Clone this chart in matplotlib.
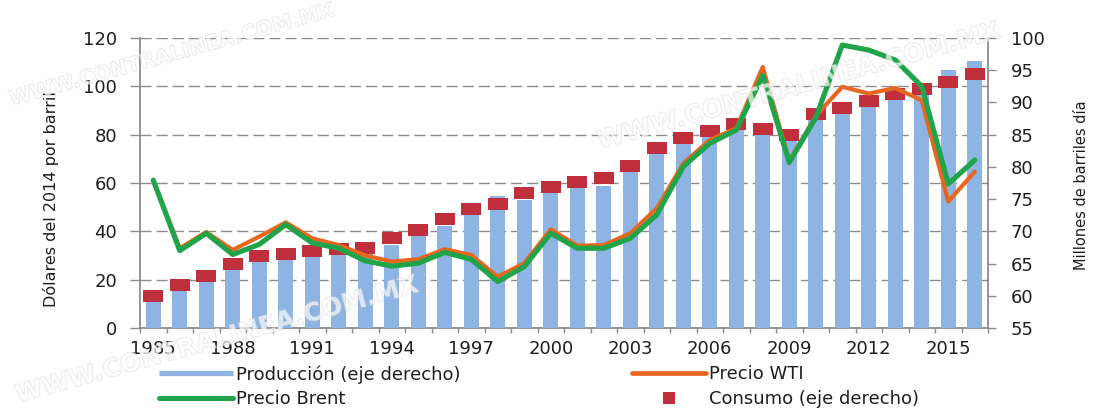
import matplotlib
matplotlib.use('Agg')
import matplotlib.pyplot as plt
from matplotlib.lines import Line2D
import matplotlib.patheffects as pe
import numpy as np

# ---------------- data ----------------
years = list(range(1985, 2017))
produccion = [59.3, 61.0, 62.2, 64.1, 65.3, 65.6, 66.2, 66.4, 66.6, 67.9,
              69.3, 70.9, 72.5, 75.5, 74.9, 76.0, 76.7, 77.1, 79.3, 82.1,
              83.7, 84.6, 85.7, 85.1, 84.0, 87.3, 88.2, 89.5, 90.4, 91.4,
              95.0, 96.5]
consumo = [60.0, 61.7, 63.1, 64.9, 66.1, 66.5, 67.0, 67.2, 67.4, 68.9,
           70.2, 71.9, 73.4, 74.2, 76.0, 76.9, 77.6, 78.3, 80.1, 83.0,
           84.5, 85.5, 86.6, 85.9, 84.9, 88.2, 89.1, 90.3, 91.3, 92.1,
           93.2, 94.4]
brent = [61.2, 32.0, 39.2, 30.4, 34.6, 42.8, 35.2, 33.0, 27.8, 25.6,
         26.8, 31.3, 28.4, 19.2, 25.4, 39.2, 33.0, 33.0, 37.1, 46.8,
         66.8, 76.4, 81.9, 104.5, 68.5, 87.0, 117.1, 115.0, 110.9, 100.0,
         59.6, 69.5]
wti = [61.0, 33.0, 39.7, 32.3, 37.8, 43.7, 37.1, 34.3, 30.0, 27.5,
       28.4, 32.6, 30.2, 21.2, 26.8, 40.8, 34.1, 34.3, 39.2, 49.5,
       68.1, 77.8, 82.6, 108.0, 69.0, 87.8, 99.8, 97.0, 99.3, 94.2,
       52.3, 64.7]
xtick_years = list(range(1985, 2016, 3))
left_ticks = list(range(0, 121, 20))
right_ticks = list(range(55, 101, 5))

labels = ['Producción (eje derecho)', 'Precio WTI', 'Precio Brent', 'Consumo (eje derecho)']

# ---------------- style ----------------
C_BAR = '#8DB4E2'
C_SQ = '#C0303C'
C_BRENT = '#1FA449'
C_WTI = '#E8661F'
C_AXIS = '#8C8C8C'
C_TXT = '#1E1E1E'
FONT = 'DejaVu Sans'
plt.rcParams['font.family'] = [FONT]

W, H = 1101, 412
fig = plt.figure(figsize=(W / 100, H / 100), dpi=100)
pos = [140 / W, 84 / H, 848 / W, 290 / H]

ax = fig.add_axes(pos)
ax2 = ax.twinx()
ax3 = fig.add_axes(pos, sharex=ax, sharey=ax)
ax3.set_axis_off()
ax.set_zorder(1)
ax2.set_zorder(2)
ax3.set_zorder(3)
ax2.patch.set_visible(False)

ax.set_xlim(1984.5, 2016.5)
ax.set_ylim(0, 120)
ax2.set_ylim(55, 100)

# bars and squares (right axis)
ax2.bar(years, produccion, width=0.56, color=C_BAR, zorder=2)
rect = [(-1, -0.58), (1, -0.58), (1, 0.58), (-1, 0.58), (-1, -0.58)]
ax2.plot(years, consumo, ls='none', marker=rect, ms=13.7, mew=0,
         color=C_SQ, zorder=3)

# price lines (left scale, on top)
ax3.plot(years, wti, color=C_WTI, lw=3.0, solid_joinstyle='round',
         solid_capstyle='round', zorder=2)
ax3.plot(years, brent, color=C_BRENT, lw=3.7, solid_joinstyle='round',
         solid_capstyle='round', zorder=3)

# grid
ax.set_yticks(left_ticks)
ax.yaxis.grid(True, color=C_AXIS, lw=1.0, ls=(0, (8, 3.6)))
ax.set_axisbelow(True)

# spines
for a in (ax, ax2):
    a.spines['top'].set_visible(False)
ax.spines['right'].set_visible(False)
ax2.spines['left'].set_visible(False)
ax2.spines['bottom'].set_visible(False)
for s in ('left', 'bottom'):
    ax.spines[s].set_color(C_AXIS)
    ax.spines[s].set_linewidth(1.3)
ax2.spines['right'].set_color(C_AXIS)
ax2.spines['right'].set_linewidth(1.3)

# ticks
ax.tick_params(axis='y', direction='out', length=7.5, width=1.0, color=C_AXIS,
               pad=9, labelsize=13, labelcolor=C_TXT)
ax2.set_yticks(right_ticks)
ax2.tick_params(axis='y', direction='out', length=6, width=1.0, color=C_AXIS,
                pad=10.5, labelsize=13, labelcolor=C_TXT)
ax.set_xticks(xtick_years)
ax.set_xticks(np.arange(1984.5, 2017, 1), minor=True)
ax.tick_params(axis='x', which='major', length=0, pad=9, labelsize=13,
               labelcolor=C_TXT)
ax.tick_params(axis='x', which='minor', direction='out', length=3.5,
               width=1.0, color=C_AXIS)

# axis titles
fig.text(51 / W, 1 - 199 / H, 'Dólares del 2014 por barril', rotation=90,
         ha='center', va='center', fontsize=11.5, color=C_TXT)
fig.text(1081 / W, 1 - 185 / H, 'Millones de barriles día', rotation=90,
         ha='center', va='center', fontsize=10.5, color=C_TXT)

# legends
h_prod = Line2D([], [], color=C_BAR, lw=3.8, solid_capstyle='butt', label=labels[0])
h_wti = Line2D([], [], color=C_WTI, lw=3.4, solid_capstyle='round', label=labels[1])
h_brent = Line2D([], [], color=C_BRENT, lw=3.6, solid_capstyle='round', label=labels[2])
h_cons = Line2D([], [], ls='none', marker='s', ms=8, mew=0, color=C_SQ, label=labels[3])

common = dict(loc='upper left', frameon=False, fontsize=13, handlelength=4.1,
              handletextpad=0.15, labelspacing=0.38, borderpad=0,
              borderaxespad=0, labelcolor=C_TXT)
leg1 = fig.legend(handles=[h_prod, h_brent], bbox_to_anchor=(159 / W, 1 - 365 / H), **common)
leg2 = fig.legend(handles=[h_wti, h_cons], bbox_to_anchor=(632 / W, 1 - 365 / H), **common)

# watermark
wm = 'WWW.CONTRALINEA.COM.MX'
for (x0, y0, fs) in [(10, 100, 14.5), (598, 142, 18), (16, 396, 18)]:
    fig.text(x0 / W, 1 - y0 / H, wm, rotation=15.5, rotation_mode='anchor',
             ha='left', va='center', fontsize=fs, fontweight='bold',
             color='white', alpha=0.45, zorder=20,
             path_effects=[pe.withStroke(linewidth=1.0, foreground='#D2D2D2')])

fig.savefig('out.png', dpi=100)
